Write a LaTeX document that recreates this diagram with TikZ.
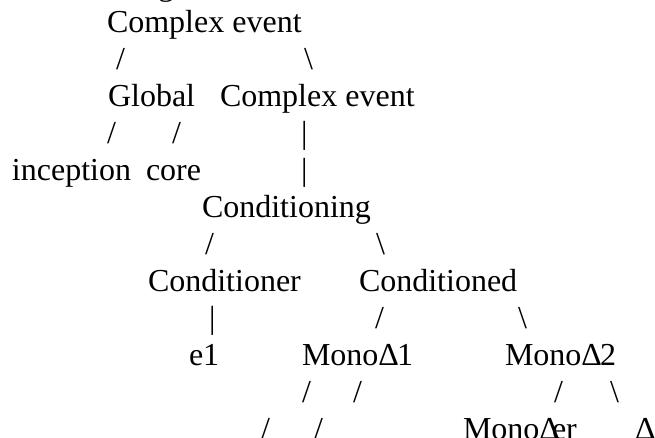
\documentclass[tikz,border=0pt]{standalone}
\usepackage{fontspec}
\setmainfont{Liberation Serif}
\begin{document}
\begin{tikzpicture}[x=1pt,y=-1pt,
  tok/.style={anchor=base west,inner sep=0pt,outer sep=0pt,
    font=\fontsize{32}{38}\selectfont}]
% page frame
\fill[white] (0,0) rectangle (655,437);
\useasboundingbox (0,0) rectangle (655,437);
% tail of the line above the top
\node[tok] (gtail) at (158,-5) {g};
% row 1
\node[tok] (root) at (107,32) {Complex event};
% row 2
\node[tok] (r2a) at (116,69) {/};
\node[tok] (r2b) at (304,69) {\textbackslash};
% row 3
\node[tok] (glob) at (108,106) {Global};
\node[tok] (cev) at (220,106) {Complex event};
% row 4
\node[tok] (r4a) at (107,143) {/};
\node[tok] (r4b) at (172,143) {/};
\node[tok] (r4c) at (301,143) {|};
% row 5
\node[tok] (incep) at (12,180) {inception};
\node[tok] (core) at (146,180) {core};
\node[tok] (r5c) at (301,180) {|};
% row 6
\node[tok] (cond) at (202,217) {Conditioning};
% row 7
\node[tok] (r7a) at (205,254) {/};
\node[tok] (r7b) at (376,254) {\textbackslash};
% row 8
\node[tok] (condr) at (148,291) {Conditioner};
\node[tok] (condd) at (359,291) {Conditioned};
% row 9
\node[tok] (r9a) at (209,328) {|};
\node[tok] (r9b) at (375,328) {/};
\node[tok] (r9c) at (518,328) {\textbackslash};
% row 10
\node[tok] (e1) at (189,365) {e1};
\node[tok] (m1) at (302,365) {MonoΔ\kern-2pt 1};
\node[tok] (m2) at (505,365) {MonoΔ\kern-2pt 2};
% row 11
\node[tok] (r11a) at (302,402) {/};
\node[tok] (r11b) at (353,402) {/};
\node[tok] (r11c) at (554,402) {/};
\node[tok] (r11d) at (610,402) {\textbackslash};
% row 12
\node[tok] (r12a) at (261,439) {/};
\node[tok] (r12b) at (314,439) {/};
\node[tok] (mer) at (463,439) {MonoΔ\kern-8pt er};
\node[tok] (dl) at (635,439) {Δ};
\end{tikzpicture}
\end{document}
